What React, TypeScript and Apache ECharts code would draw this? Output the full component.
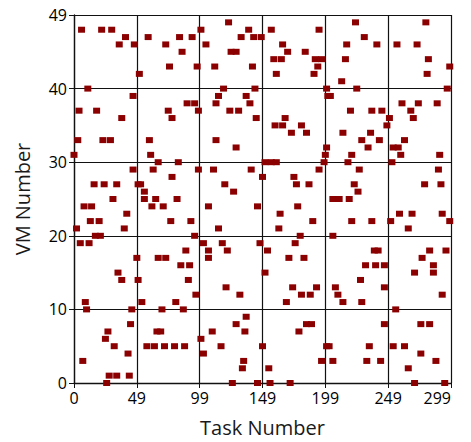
import React, { useEffect, useRef } from "react";
import * as echarts from "echarts";

const xTickLabels: Record<number, string> = { 0: "0", 50: "49", 100: "99", 150: "149", 200: "199", 250: "249", 300: "299" };
const yTickLabels: Record<number, string> = { 0: "0", 10: "10", 20: "20", 30: "30", 40: "40", 50: "49" };

const taskIds = [
  6, 22, 30, 41, 36, 48, 52, 11, 47, 4, 18, 38, 3, 23, 29, 0, 47, 16, 24, 34, 31, 51,
  8, 14, 42, 13, 20, 2, 40, 17, 21, 5, 12, 50, 35, 38, 9, 10, 46, 45, 27, 25, 32, 43, 7, 28, 34, 44, 26,
  59, 73, 84, 94, 101, 86, 76, 98, 90, 96, 99, 75, 78, 60, 61, 67, 83, 63, 99, 78, 53, 56, 56, 65, 82,
  62, 71, 77, 93, 96, 67, 73, 89, 85, 92, 51, 91, 97, 54, 81, 70, 87, 66, 69, 58, 64, 72, 80, 88,
  123, 139, 133, 143, 149, 105, 125, 129, 112, 142, 119, 144, 115, 113, 137, 140, 124, 131, 145, 113, 129, 111, 141, 150, 120, 127,
  107, 146, 115, 103, 118, 148, 107, 107, 122, 121, 132, 137, 129, 136, 110, 101, 117, 103, 150, 135, 134, 126, 146,
  157, 195, 166, 170, 159, 165, 184, 192, 197, 194, 191, 161, 201, 202, 168, 160, 166, 173, 181, 185, 152, 157, 161, 201, 200, 199, 195, 175, 177, 187,
  178, 164, 190, 163, 180, 176, 154, 171, 183, 152, 174, 193, 181, 188, 169, 185, 189, 179, 201, 197, 155, 156, 172,
  224, 231, 217, 241, 216, 213, 225, 204, 220, 237, 245, 249, 214, 236, 229, 243, 234, 221, 218, 227, 223, 226, 206, 211, 219,
  221, 237, 206, 239, 242, 232, 240, 247, 228, 208, 210, 214, 229, 247, 247, 203, 235, 206, 233, 244,
  280, 257, 273, 282, 299, 281, 297, 261, 274, 289, 268, 270, 251, 263, 254, 258, 260, 291, 253, 290, 279, 292,
  259, 269, 293, 252, 299, 266, 283, 296, 277, 286, 286, 271, 293, 256, 276, 283, 254, 263, 276, 288, 266, 271, 295,
];

const vmIds = [
  48, 48, 48, 47, 46, 46, 42, 40, 39, 37, 37, 36, 33, 33, 33, 31, 29, 27, 27, 27, 25, 27,
  24, 24, 23, 22, 22, 21, 21, 20, 20, 19, 19, 17, 15, 14, 11, 10, 10, 8, 7, 6, 5, 4, 3, 1, 1, 1, 0,
  47, 46, 47, 47, 48, 45, 43, 43, 38, 38, 37, 37, 36, 33, 31, 30, 30, 29, 29, 28, 27, 26, 25, 25, 25,
  24, 24, 22, 22, 20, 17, 17, 18, 16, 16, 14, 14, 12, 11, 11, 10, 10, 7, 7, 5, 5, 5, 5, 5,
  49, 48, 47, 47, 47, 46, 45, 45, 43, 43, 40, 40, 39, 38, 39, 38, 37, 37, 36, 33, 32, 29, 29, 28, 27, 26,
  24, 24, 21, 19, 19, 19, 18, 17, 18, 13, 12, 9, 8, 7, 7, 6, 5, 4, 5, 3, 2, 0, 0,
  48, 48, 46, 45, 44, 44, 45, 44, 44, 43, 42, 42, 40, 39, 36, 35, 35, 34, 35, 34, 30, 30, 30, 32, 31, 30, 29, 28, 27, 27,
  24, 23, 22, 21, 20, 19, 18, 17, 17, 15, 13, 13, 12, 12, 11, 8, 8, 7, 5, 3, 2, 0, 0,
  49, 47, 46, 46, 44, 41, 40, 39, 37, 37, 37, 35, 34, 34, 33, 33, 32, 31, 30, 29, 27, 26, 25, 25, 25,
  22, 22, 20, 18, 18, 16, 16, 16, 14, 13, 12, 11, 11, 13, 8, 5, 5, 3, 3, 3,
  49, 46, 46, 44, 43, 42, 40, 38, 38, 38, 37, 36, 36, 33, 32, 32, 31, 31, 30, 29, 27, 27,
  23, 23, 23, 22, 22, 21, 18, 18, 17, 16, 15, 15, 12, 10, 8, 8, 5, 5, 4, 3, 2, 0, 0,
];

const points = taskIds.map((t, i) => [t, vmIds[i]]);

export default function App() {
  const ref = useRef<HTMLDivElement>(null);
  useEffect(() => {
    if (!ref.current) return;
    const chart = echarts.init(ref.current, null, { renderer: "svg" });
    const font = "'Open Sans', 'Noto Sans', sans-serif";
    chart.setOption({
      animation: false,
      backgroundColor: "#ffffff",
      grid: { left: 74, right: 20, top: 15, bottom: 54, containLabel: false },
      xAxis: {
        type: "value",
        min: 0,
        max: 300,
        interval: 50,
        name: "Task Number",
        nameLocation: "middle",
        nameGap: 34,
        nameTextStyle: { fontFamily: font, fontSize: 20, color: "#1a1a1a" },
        axisLine: { show: true, lineStyle: { color: "#111", width: 1.3 } },
        axisTick: { show: true, length: 5, lineStyle: { color: "#111" } },
        axisLabel: {
          fontFamily: font,
          fontSize: 16,
          color: "#000",
          margin: 7,
          alignMaxLabel: "right",
          formatter: (v: number) => xTickLabels[v] ?? String(v),
        },
        splitLine: { show: true, lineStyle: { color: "#111", width: 1.2 } },
      },
      yAxis: {
        type: "value",
        min: 0,
        max: 50,
        interval: 10,
        name: "VM Number",
        nameLocation: "middle",
        nameGap: 42,
        nameTextStyle: { fontFamily: font, fontSize: 20, color: "#1a1a1a" },
        axisLine: { show: true, lineStyle: { color: "#111", width: 1.3 } },
        axisTick: { show: true, length: 5, lineStyle: { color: "#111" } },
        axisLabel: {
          fontFamily: font,
          fontSize: 16,
          color: "#000",
          margin: 7,
          formatter: (v: number) => yTickLabels[v] ?? String(v),
        },
        splitLine: { show: true, lineStyle: { color: "#111", width: 1.2 } },
      },
      series: [
        {
          type: "scatter",
          data: points,
          symbol: "rect",
          symbolSize: [7, 6],
          itemStyle: { color: "#8b0000", opacity: 1 },
        },
      ],
    });
    return () => chart.dispose();
  }, []);
  return (
    <div
      ref={ref}
      style={{ position: "fixed", left: 0, top: 0, width: 471, height: 442 }}
    />
  );
}
